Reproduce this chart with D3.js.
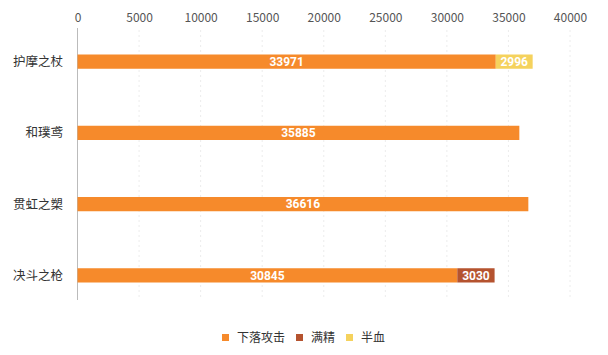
<!DOCTYPE html>
<html><head><meta charset="utf-8">
<script src="https://cdn.jsdelivr.net/npm/d3@7"></script>
<style>body{margin:0;background:#fff;}svg{display:block;font-family:"Noto Sans CJK SC","Noto Sans",sans-serif;}</style>
</head><body>
<script>
const categories = ["护摩之杖","和璞鸢","贯虹之槊","决斗之枪"];
const seriesNames = ["下落攻击","满精","半血"];
const fallAttack = [33971, 35885, 36616, 30845];
const fullStamina = [0, 0, 0, 3030];
const halfHp = [2996, 0, 0, 0];
const xTicks = [0,5000,10000,15000,20000,25000,30000,35000,40000];
const colors = ["#f68a2b","#b5532f","#f5d25d"];

const W=608,H=355;
const svg=d3.select("body").append("svg").attr("width",W).attr("height",H);
const x=d3.scaleLinear().domain([0,40000]).range([77.5,570]);
const y=d3.scaleBand().domain(categories).range([26,311]).paddingInner(0.8).paddingOuter(0.4);

// grid
svg.append("g").selectAll("line").data(xTicks.slice(1)).join("line")
  .attr("x1",d=>x(d)).attr("x2",d=>x(d)).attr("y1",30).attr("y2",300)
  .attr("stroke","#ececec").attr("stroke-dasharray","2,3");
svg.append("line").attr("x1",x(0)).attr("x2",x(0)).attr("y1",28).attr("y2",300).attr("stroke","#bbb");

const xAxis=svg.append("g").attr("transform","translate(0,26)")
  .call(d3.axisTop(x).tickValues(xTicks).tickFormat(d3.format("d")).tickSize(0).tickPadding(4));
xAxis.select(".domain").remove();
xAxis.selectAll("text").attr("fill","#555").attr("font-size",12).attr("font-family","'Noto Sans CJK SC',sans-serif");

svg.append("g").selectAll("text").data(categories).join("text")
  .attr("x",63).attr("y",d=>y(d)+y.bandwidth()/2).attr("dy","0.35em")
  .attr("text-anchor","end").attr("font-size",12.5).attr("fill","#333").text(d=>d);

const series=[fallAttack,fullStamina,halfHp];
const rows=categories.map((c,i)=>({c,vals:series.map(s=>s[i])}));
const stack=d3.stack().keys([0,1,2]).value((d,k)=>d.vals[k])(rows);
stack.forEach((layer,k)=>{
  const g=svg.append("g");
  layer.forEach(seg=>{
    const v=seg[1]-seg[0]; if(!v) return;
    const c=seg.data.c;
    g.append("rect").attr("x",x(seg[0])).attr("width",x(seg[1])-x(seg[0]))
      .attr("y",y(c)).attr("height",y.bandwidth()).attr("fill",colors[k]);
    g.append("text").attr("x",(x(seg[0])+x(seg[1]))/2).attr("y",y(c)+y.bandwidth()/2).attr("dy","0.36em")
      .attr("text-anchor","middle").attr("fill","#fff").attr("font-size",12).attr("font-weight","bold")
      .attr("font-family","Roboto,sans-serif").text(v);
  });
});

const legX=[222,296,346];
const lg=svg.append("g");
seriesNames.forEach((n,i)=>{
  lg.append("rect").attr("x",legX[i]).attr("y",334).attr("width",7).attr("height",7).attr("fill",colors[i]);
  lg.append("text").attr("x",legX[i]+15).attr("y",337.5).attr("dy","0.35em").attr("font-size",12).attr("fill","#333").text(n);
});
</script>
</body></html>
